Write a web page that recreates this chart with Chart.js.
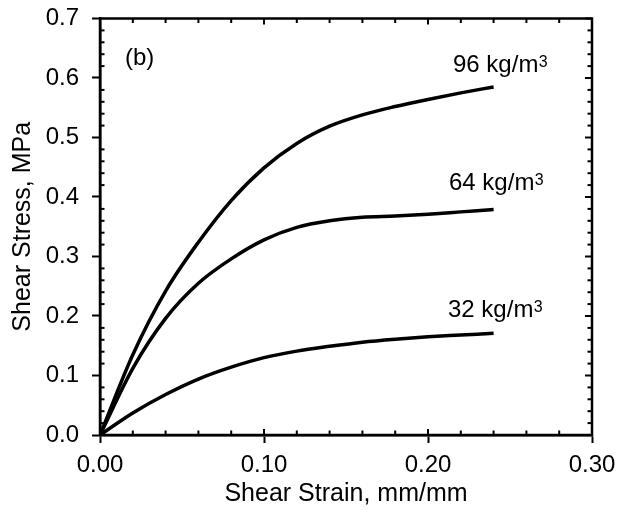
<!DOCTYPE html>
<html>
<head>
<meta charset="utf-8">
<script src="https://cdn.jsdelivr.net/npm/chart.js@4/dist/chart.umd.min.js"></script>
<style>
  html, body { margin: 0; padding: 0; background: #fff; }
  #wrap { width: 621px; height: 514px; }
</style>
</head>
<body>
<div id="wrap"><canvas id="c" width="621" height="514"></canvas></div>
<script>
// ---- data ----
const strain = [0, 0.02, 0.04, 0.06, 0.08, 0.10, 0.12, 0.14, 0.16, 0.18, 0.20, 0.22, 0.24];
const stress96 = [0, 0.135, 0.242, 0.324, 0.394, 0.449, 0.490, 0.519, 0.538, 0.552, 0.564, 0.575, 0.585];
const stress64 = [0, 0.112, 0.196, 0.255, 0.296, 0.328, 0.349, 0.360, 0.366, 0.368, 0.371, 0.375, 0.379];
const stress32 = [0, 0.037, 0.068, 0.094, 0.114, 0.130, 0.141, 0.149, 0.156, 0.161, 0.165, 0.168, 0.171];
const seriesLabels = ['96 kg/m', '64 kg/m', '32 kg/m'];
const panelLabel = '(b)';
const xTitle = 'Shear Strain, mm/mm';
const yTitle = 'Shear Stress, MPa';
const xMin = 0, xMax = 0.30, xStep = 0.02;
const yMin = 0, yMax = 0.7, yStep = 0.02;

const FONT = "'Liberation Sans', Arial, sans-serif";
const toPts = ys => strain.map((x, i) => ({ x: x, y: ys[i] }));
const isMajor = v => Math.abs(Math.round(v * 100) % 10) === 0;

const lineStyle = { borderColor: '#000', borderWidth: 3.5, pointRadius: 0, showLine: true, cubicInterpolationMode: 'monotone', fill: false };

const frameTicks = {
  id: 'frameTicks',
  afterDraw(chart) {
    const { ctx, chartArea: a, scales: { x, y } } = chart;
    ctx.save();
    ctx.strokeStyle = '#000';
    ctx.lineCap = 'butt';
    const seg = (x1, y1, x2, y2) => { ctx.beginPath(); ctx.moveTo(x1, y1); ctx.lineTo(x2, y2); ctx.stroke(); };
    ctx.lineWidth = 2;
    x.ticks.forEach(t => {
      const px = x.getPixelForValue(t.value);
      const len = isMajor(t.value) ? 6 : 4.5;
      seg(px, a.bottom, px, a.bottom - len);
      seg(px, a.top, px, a.top + len);
    });
    y.ticks.forEach(t => {
      const py = y.getPixelForValue(t.value);
      const len = isMajor(t.value) ? 7 : 4.5;
      if (!isMajor(t.value)) seg(a.left, py, a.left + len, py);
      seg(a.right, py, a.right - len, py);
    });
    ctx.lineWidth = 2.5;
    ctx.strokeRect(a.left, a.top, a.right - a.left, a.bottom - a.top);

    // panel label
    ctx.fillStyle = '#000';
    ctx.textBaseline = 'alphabetic';
    ctx.textAlign = 'left';
    ctx.font = '24px ' + FONT;
    ctx.fillText(panelLabel, a.left + 25, a.top + 46.5);

    // series labels anchored at the end point of each curve
    chart.data.datasets.forEach((ds, i) => {
      const last = ds.data[ds.data.length - 1];
      const ex = x.getPixelForValue(last.x);
      const ey = y.getPixelForValue(last.y);
      const offs = [[-40.6, -14.5], [-44.6, -19.2], [-45.6, -16]][i];
      const tx = ex + offs[0], ty = ey + offs[1];
      ctx.font = '24px ' + FONT;
      ctx.fillText(seriesLabels[i], tx, ty);
      const w = ctx.measureText(seriesLabels[i]).width;
      ctx.font = '16px ' + FONT;
      ctx.fillText('3', tx + w + 0.5, ty - 5.5);
    });
    ctx.restore();
  }
};

new Chart(document.getElementById('c'), {
  type: 'scatter',
  data: {
    datasets: [
      Object.assign({ label: seriesLabels[0], data: toPts(stress96) }, lineStyle),
      Object.assign({ label: seriesLabels[1], data: toPts(stress64) }, lineStyle),
      Object.assign({ label: seriesLabels[2], data: toPts(stress32) }, lineStyle)
    ]
  },
  options: {
    responsive: false,
    animation: false,
    devicePixelRatio: 1,
    layout: { padding: { left: 0, right: 29, top: 18.5, bottom: 0 } },
    plugins: { legend: { display: false }, tooltip: { enabled: false } },
    scales: {
      x: {
        type: 'linear', min: xMin, max: xMax,
        afterFit: s => { s.height = 79; s.paddingLeft = 0; s.paddingRight = 0; },
        ticks: {
          stepSize: xStep, autoSkip: false, maxRotation: 0, padding: 8,
          color: '#000', font: { family: FONT, size: 24 },
          callback: v => isMajor(v) ? v.toFixed(2) : ''
        },
        grid: {
          drawOnChartArea: false, drawTicks: true, tickLength: 8, tickWidth: 2,
          tickColor: c => (c.tick && isMajor(c.tick.value)) ? '#000' : 'rgba(0,0,0,0)'
        },
        border: { display: true, color: '#000', width: 2.5 },
        title: { display: true, text: xTitle, color: '#000', font: { family: FONT, size: 25 }, padding: { top: 0, bottom: 5 } }
      },
      y: {
        type: 'linear', min: yMin, max: yMax,
        afterFit: s => { s.width = 100; s.paddingTop = 0; s.paddingBottom = 0; },
        ticks: {
          stepSize: yStep, autoSkip: false, padding: 13,
          color: '#000', font: { family: FONT, size: 24 },
          callback: v => isMajor(v) ? v.toFixed(1) : ''
        },
        grid: {
          drawOnChartArea: false, drawTicks: true, tickLength: 8, tickWidth: 2,
          tickColor: c => (c.tick && isMajor(c.tick.value)) ? '#000' : 'rgba(0,0,0,0)'
        },
        border: { display: true, color: '#000', width: 2.5 },
        title: { display: true, text: yTitle, color: '#000', font: { family: FONT, size: 25 }, padding: { top: 8, bottom: 0 } }
      }
    }
  },
  plugins: [frameTicks]
});
</script>
</body>
</html>
